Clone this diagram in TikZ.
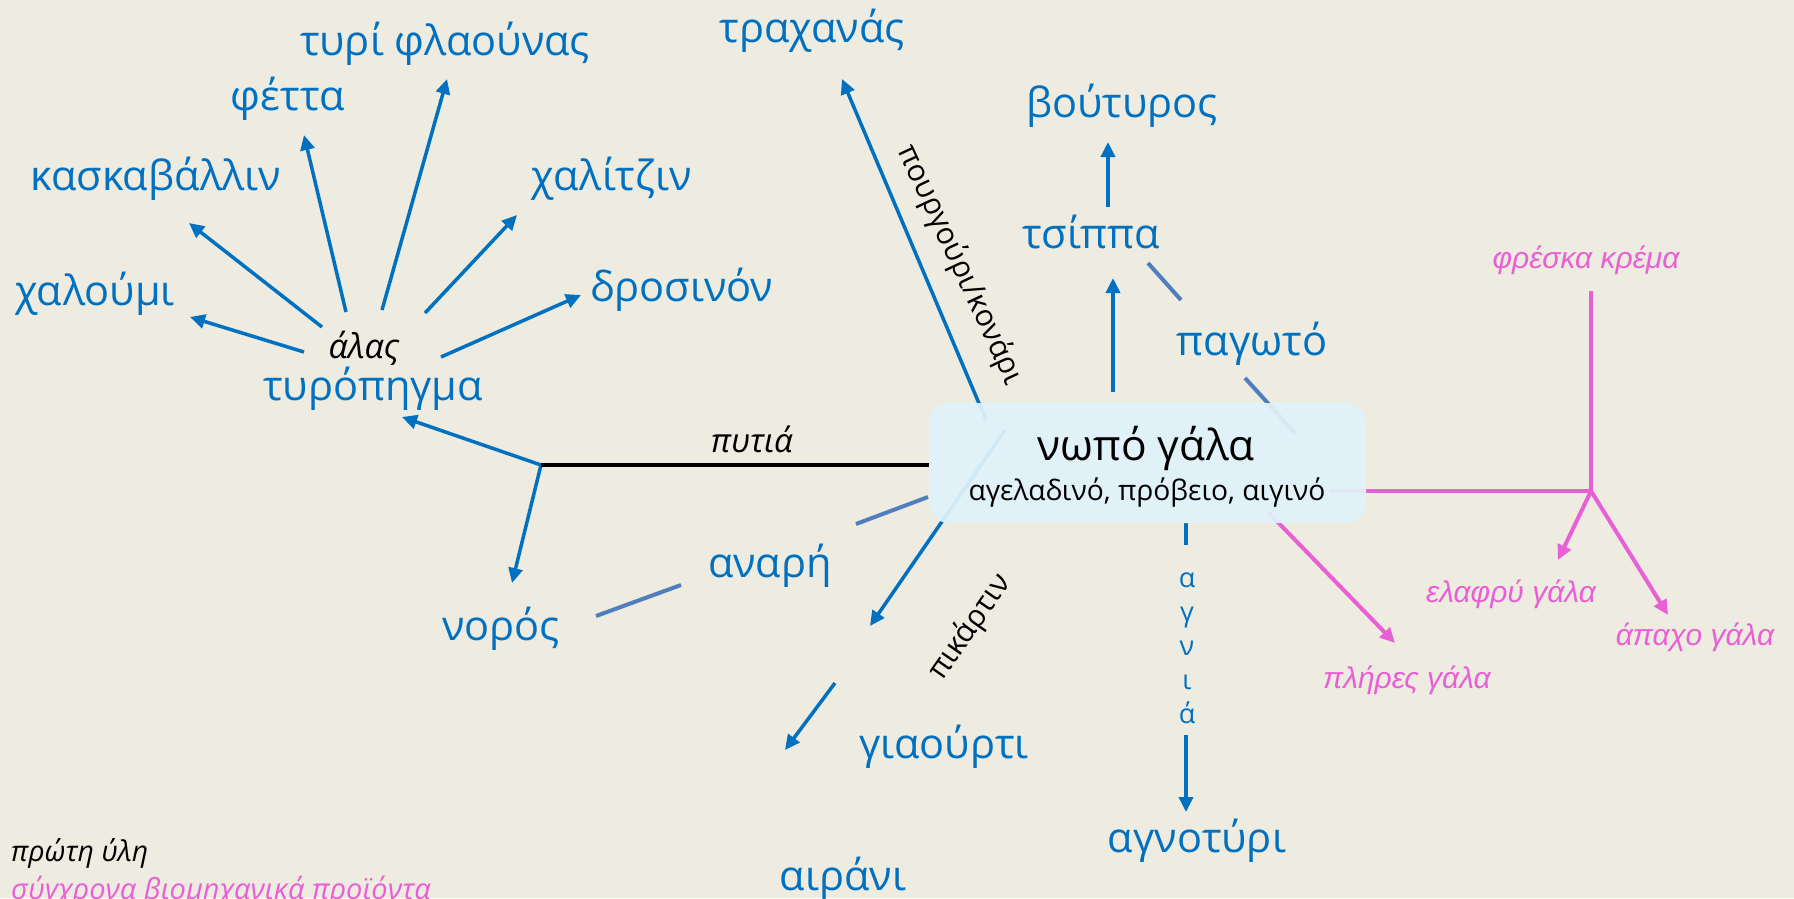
\documentclass[tikz,border=0pt]{standalone}
\usepackage{fontspec}
\setmainfont{Open Sans}
\newfontfamily\arialit{Liberation Sans}
\usetikzlibrary{arrows.meta}
\definecolor{bg}{HTML}{EEEBE0}
\definecolor{oblue}{HTML}{0070C0}
\definecolor{gblue}{HTML}{4F7DBD}
\definecolor{mag}{HTML}{E95FD5}
\definecolor{boxfill}{HTML}{E1F2FA}
\begin{document}
\begin{tikzpicture}[x=1pt,y=-1pt,
  lbl/.style={text=oblue, font=\fontsize{41.5}{48}\selectfont, anchor=base, inner sep=0pt},
  blk/.style={text=black, font=\fontsize{33}{38}\selectfont\itshape, anchor=base, inner sep=0pt},
  pk/.style={text=mag, font=\fontsize{30}{36}\selectfont\arialit\itshape, anchor=base, inner sep=0pt},
  rot/.style={text=black, font=\fontsize{30}{36}\selectfont, inner sep=0pt},
  agn/.style={text=oblue, font=\fontsize{27}{32}\selectfont, anchor=base, inner sep=0pt},
  arr/.style={draw=oblue, line width=3.5pt, -{Triangle[length=15pt,width=14pt]}},
  bline/.style={draw=oblue, line width=3.5pt},
  gline/.style={draw=gblue, line width=4pt},
  mline/.style={draw=mag, line width=4pt},
  marr/.style={draw=mag, line width=4pt, -{Triangle[length=15pt,width=14pt]}},
  kline/.style={draw=black, line width=3.5pt}
]
\useasboundingbox (0,0) rectangle (1794,898);
\clip (0,0) rectangle (1794,898);
\fill[bg] (0,0) rectangle (1794,898);

% coordinates
\coordinate (c1t) at (304,352); \coordinate (c1h) at (190,317);
\coordinate (c2t) at (322,327); \coordinate (c2h) at (189,223);
\coordinate (c3t) at (346,312); \coordinate (c3h) at (304,135);
\coordinate (c4t) at (382,310); \coordinate (c4h) at (447,79);
\coordinate (c5t) at (425,313); \coordinate (c5h) at (517,215);
\coordinate (c6t) at (441,357); \coordinate (c6h) at (581,295);
\coordinate (br) at (541,465);
\coordinate (tyh) at (402,417);
\coordinate (norh) at (512,583);
\coordinate (trt) at (986,420); \coordinate (trh) at (842,79);
\coordinate (pkt) at (1005,430); \coordinate (pkh) at (870,626);
\coordinate (pk2t) at (835,683); \coordinate (pk2h) at (785,750);
\coordinate (bot) at (1108,207); \coordinate (boh) at (1108,142);
\coordinate (tst) at (1113,392); \coordinate (tsh) at (1113,278);
\coordinate (g1a) at (1148,263); \coordinate (g1b) at (1181,300);
\coordinate (g2a) at (1245,378); \coordinate (g2b) at (1295,433);
\coordinate (g3a) at (928,497); \coordinate (g3b) at (856,524);
\coordinate (g4a) at (681,585); \coordinate (g4b) at (596,616);
\coordinate (agt) at (1186,523); \coordinate (agm) at (1186,545);
\coordinate (agt2) at (1186,735); \coordinate (agh) at (1186,812);
\coordinate (mh) at (1330,491); \coordinate (mj) at (1591,491);
\coordinate (mtop) at (1591,291);
\coordinate (melh) at (1558,560); \coordinate (maph) at (1668,615);
\coordinate (mplt) at (1268,512); \coordinate (mplh) at (1395,643);

% connectors
\draw[arr] (c1t) -- (c1h);
\draw[arr] (c2t) -- (c2h);
\draw[arr] (c3t) -- (c3h);
\draw[arr] (c4t) -- (c4h);
\draw[arr] (c5t) -- (c5h);
\draw[arr] (c6t) -- (c6h);
\draw[arr] (br) -- (tyh);
\draw[arr] (br) -- (norh);
\draw[arr] (trt) -- (trh);
\draw[arr] (pkt) -- (pkh);
\draw[arr] (pk2t) -- (pk2h);
\draw[arr] (bot) -- (boh);
\draw[arr] (tst) -- (tsh);
\draw[gline] (g1a) -- (g1b);
\draw[gline] (g2a) -- (g2b);
\draw[gline] (g3a) -- (g3b);
\draw[gline] (g4a) -- (g4b);
\draw[bline] (agt) -- (agm);
\draw[arr] (agt2) -- (agh);
\draw[mline] (mh) -- (mj);
\draw[mline] (mtop) -- (mj);
\draw[marr] (mj) -- (melh);
\draw[marr] (mj) -- (maph);
\draw[marr] (mplt) -- (mplh);

% box
\node[fill=boxfill, fill opacity=0.93, rounded corners=20pt, minimum width=437pt, minimum height=120pt, inner sep=0pt] (box) at (1147.5,463) {};
\draw[kline] (br) -- (br -| box.west);
\node[font=\fontsize{42.5}{50}\selectfont, anchor=base, inner sep=0pt] (nopo) at (1146,460) {νωπό γάλα};
\node[font=\fontsize{28.2}{33}\selectfont, anchor=base, inner sep=0pt] (sub) at (1147,500) {αγελαδινό, πρόβειο, αιγινό};

% labels
\node[lbl] (trach) at (812,42) {τραχανάς};
\node[lbl] (flaou) at (445,55) {τυρί φλαούνας};
\node[lbl] (fetta) at (288,110) {φέττα};
\node[lbl] (kask) at (156,190) {κασκαβάλλιν};
\node[lbl] (chal) at (95,305) {χαλούμι};
\node[lbl] (chalit) at (612,190) {χαλίτζιν};
\node[lbl] (dros) at (682,301) {δροσινόν};
\node[blk, font=\fontsize{34}{38}\selectfont\itshape] (alas) at (364,358) {άλας};
\node[lbl] (tyro) at (373,400) {τυρόπηγμα};
\node[lbl] (bout) at (1122,117) {βούτυρος};
\node[lbl] (tsip) at (1091,248) {τσίππα};
\node[lbl] (pag) at (1252,355) {παγωτό};
\node[lbl] (anari) at (770,577) {αναρή};
\node[lbl] (noros) at (501,640) {νορός};
\node[lbl] (giaou) at (944,758) {γιαούρτι};
\node[lbl] (airani) at (843,890) {αιράνι};
\node[lbl] (agnot) at (1197,852) {αγνοτύρι};
\node[blk] (pytia) at (752,452) {πυτιά};
\node[pk] (fresh) at (1586,268) {φρέσκα κρέμα};
\node[pk] (elafry) at (1511,602) {ελαφρύ γάλα};
\node[pk] (apacho) at (1695,645) {άπαχο γάλα};
\node[pk] (pliris) at (1407,688) {πλήρες γάλα};
\node[blk, font=\fontsize{28.5}{34}\selectfont\itshape, anchor=base west] (proti) at (11,861) {πρώτη ύλη};
\node[pk, font=\fontsize{29}{34}\selectfont\itshape, anchor=base west] (sygch) at (11,899) {σύγχρονα βιομηχανικά προϊόντα};
\node[rot, rotate=-65] (pourg) at (960,265) {πουργούρι/κονάρι};
\node[rot, rotate=55] (pikar) at (970,627) {πικάρτιν};
\node[agn] (a1) at (1187,587) {α};
\node[agn] (a2) at (1187,621) {γ};
\node[agn] (a3) at (1187,655) {ν};
\node[agn] (a4) at (1187,689) {ι};
\node[agn] (a5) at (1187,723) {ά};
\end{tikzpicture}
\end{document}
